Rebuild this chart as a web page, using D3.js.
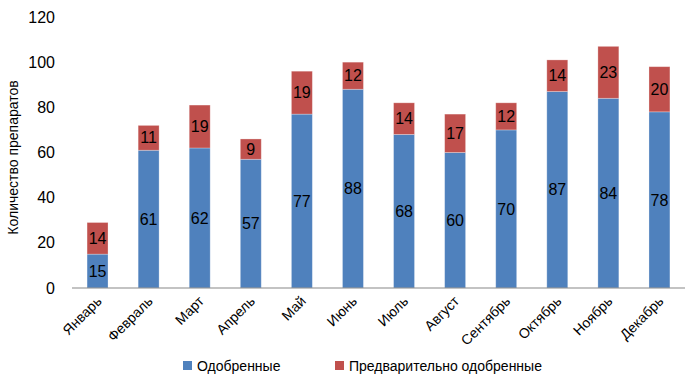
<!DOCTYPE html>
<html lang="ru">
<head>
<meta charset="UTF-8">
<title>Препараты по месяцам</title>
<script src="https://d3js.org/d3.v7.min.js"></script>
<style>
  body { margin: 0; background: #fff; }
  svg text { font-family: "Liberation Sans Narrow", "Liberation Sans", Arial, sans-serif; fill: #000; }
</style>
</head>
<body>
<svg width="687" height="387"></svg>
<script>
const months = ["Январь","Февраль","Март","Апрель","Май","Июнь","Июль","Август","Сентябрь","Октябрь","Ноябрь","Декабрь"]
const approved = [15,61,62,57,77,88,68,60,70,87,84,78]
const preliminary = [14,11,19,9,19,12,14,17,12,14,23,20]
const seriesNames = ["Одобренные","Предварительно одобренные"]
const colors = ["#4F81BD","#C0504D"]
const yTicks = [0,20,40,60,80,100,120]

const svg = d3.select("svg")
const plotLeft = 72, plotRight = 685, plotTop = 17, plotBottom = 288

let x = d3.scaleBand().domain(months).range([plotLeft, plotRight]).paddingInner(0.59).paddingOuter(0.295)
let y = d3.scaleLinear().domain([0,120]).range([plotBottom, plotTop])

let rows = months.map((m,i) => ({month: m, a: approved[i], p: preliminary[i]}))
let stack = d3.stack().keys(["a","p"])(rows)

// y tick labels
svg.append("g").selectAll("text").data(yTicks).enter().append("text")
  .attr("x", 55).attr("y", d => y(d)).attr("dy", "0.35em")
  .attr("text-anchor", "end").attr("font-size", 16)
  .text(d => d)

svg.append("text")
  .attr("transform", `translate(18,${(plotTop+plotBottom)/2 + 5}) rotate(-90)`)
  .attr("text-anchor", "middle").attr("font-size", 14)
  .text("Количество препаратов")

// bars
let layers = svg.append("g").selectAll("g").data(stack).enter().append("g")
  .attr("fill", (d,i) => colors[i])

layers.selectAll("rect").data(d => d).enter().append("rect")
  .attr("x", d => x(d.data.month))
  .attr("width", x.bandwidth())
  .attr("y", d => y(d[1]))
  .attr("height", d => y(d[0]) - y(d[1]))
  .attr("stroke", "rgba(255,255,255,0.35)")
  .attr("stroke-width", 0.8)

layers.selectAll("text").data(d => d).enter().append("text")
  .attr("x", d => x(d.data.month) + x.bandwidth()/2)
  .attr("y", d => (y(d[0]) + y(d[1]))/2)
  .attr("dy", "0.35em")
  .attr("text-anchor", "middle").attr("font-size", 16)
  .text(d => d[1] - d[0])

// x axis line
svg.append("line").attr("x1", plotLeft).attr("x2", plotRight).attr("y1", plotBottom).attr("y2", plotBottom)
  .attr("stroke", "#888").attr("stroke-width", 1.2)

// month labels
svg.append("g").selectAll("text").data(months).enter().append("text")
  .attr("transform", d => `translate(${x(d) + x.bandwidth()/2 + 5},${plotBottom + 14}) rotate(-45)`)
  .attr("text-anchor", "end").attr("font-size", 14)
  .text(d => d)

// legend
let legendX = [183, 335]
let lg = svg.append("g").selectAll("g").data(seriesNames).enter().append("g")
  .attr("transform", (d,i) => `translate(${legendX[i]},366)`)
lg.append("rect").attr("x", 0).attr("y", -5).attr("width", 9).attr("height", 9)
  .attr("fill", (d,i) => colors[i])
lg.append("text").attr("x", 14).attr("y", 0).attr("dy", "0.35em")
  .attr("font-size", 14).text(d => d)
</script>
</body>
</html>
